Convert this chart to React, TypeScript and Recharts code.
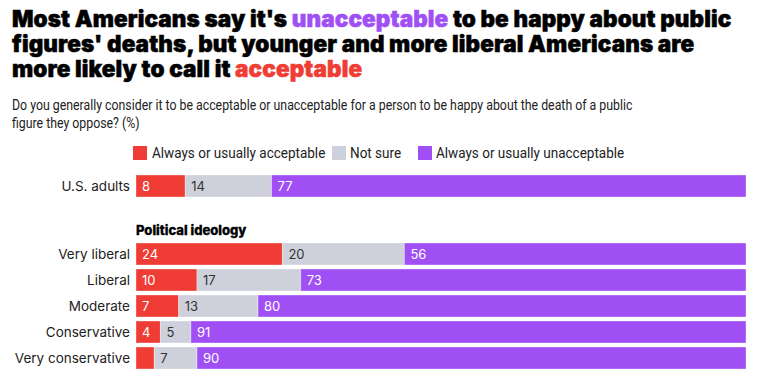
import React from 'react';
import { BarChart, Bar, XAxis, YAxis, LabelList } from 'recharts';

const RED = '#EF3D36';
const GRAY = '#CED1DB';
const PURPLE = '#A04FF5';

const seriesNames = ['Always or usually acceptable', 'Not sure', 'Always or usually unacceptable'];

const overallGroups = ['U.S. adults'];
const overallAcceptable = [8];
const overallNotSure = [14];
const overallUnacceptable = [77];

const ideologyGroups = ['Very liberal', 'Liberal', 'Moderate', 'Conservative', 'Very conservative'];
const ideologyAcceptable = [24, 10, 7, 4, 3];
const ideologyNotSure = [20, 17, 13, 5, 7];
const ideologyUnacceptable = [56, 73, 80, 91, 90];

const buildRows = (groups: string[], acc: number[], ns: number[], unacc: number[]) =>
  groups.map((group, i) => ({ group, acc: acc[i], ns: ns[i], unacc: unacc[i] }));

const overallData = buildRows(overallGroups, overallAcceptable, overallNotSure, overallUnacceptable);
const ideologyData = buildRows(ideologyGroups, ideologyAcceptable, ideologyNotSure, ideologyUnacceptable);

const labelFont = 'Inter, "Noto Sans", sans-serif';
const narrowFont = 'Roboto, "Noto Sans", sans-serif';

const segmentLabel = (color: string) => (props: any) => {
  const { x, y, width, height, value } = props;
  if (width < 20) return null;
  return (
    <text
      x={x + 6}
      y={y + height / 2}
      dominantBaseline="central"
      fill={color}
      fontSize={13}
      fontFamily={labelFont}
    >
      {value}
    </text>
  );
};

const CategoryTick = (props: any) => {
  const { x, y, payload } = props;
  return (
    <text x={x} y={y} textAnchor="end" dominantBaseline="central" fill="#222" fontSize={13.5} fontFamily={labelFont}>
      {payload.value}
    </text>
  );
};

const StackedRows = ({ data, height }: { data: any[]; height: number }) => (
  <BarChart
    width={760}
    height={height}
    data={data}
    layout="vertical"
    stackOffset="expand"
    barSize={22}
    margin={{ top: 0, right: 14, bottom: 0, left: 0 }}
  >
    <XAxis type="number" domain={[0, 1]} hide />
    <YAxis
      type="category"
      dataKey="group"
      width={136}
      axisLine={false}
      tickLine={false}
      tickSize={0}
      tickMargin={6}
      tick={<CategoryTick />}
    />
    <Bar dataKey="acc" name={seriesNames[0]} stackId="a" fill={RED} stroke="#fff" strokeOpacity={0.35} isAnimationActive={false}>
      <LabelList dataKey="acc" content={segmentLabel('#fff')} />
    </Bar>
    <Bar dataKey="ns" name={seriesNames[1]} stackId="a" fill={GRAY} stroke="#fff" strokeOpacity={0.35} isAnimationActive={false}>
      <LabelList dataKey="ns" content={segmentLabel('#333')} />
    </Bar>
    <Bar dataKey="unacc" name={seriesNames[2]} stackId="a" fill={PURPLE} stroke="#fff" strokeOpacity={0.35} isAnimationActive={false}>
      <LabelList dataKey="unacc" content={segmentLabel('#fff')} />
    </Bar>
  </BarChart>
);

const narrowText = (size: number, squeeze: number): React.CSSProperties => ({
  fontFamily: narrowFont,
  fontSize: size,
  color: '#222',
  whiteSpace: 'nowrap',
  transform: `scaleX(${squeeze})`,
  transformOrigin: 'left center',
});

// legend swatch / text x positions, taken from the reference layout
const legendSwatchX = [133, 332, 418];
const legendTextX = [152, 350, 436];

export default function App() {
  const colors = [RED, GRAY, PURPLE];
  return (
    <div style={{ position: 'absolute', left: 0, top: 0, width: 760, height: 384, background: '#fff', overflow: 'hidden' }}>
      <div
        style={{
          position: 'absolute',
          left: 12,
          top: 6,
          fontFamily: labelFont,
          fontWeight: 900,
          fontSize: 22.5,
          lineHeight: '25px',
          color: '#000',
          letterSpacing: 0.1,
          whiteSpace: 'nowrap',
          WebkitTextStroke: '0.5px currentColor',
        }}
      >
        Most Americans say it's <span style={{ color: PURPLE }}>unacceptable</span> to be happy about public
        <br />
        figures' deaths, but younger and more liberal Americans are
        <br />
        more likely to call it <span style={{ color: RED }}>acceptable</span>
      </div>
      <div style={{ position: 'absolute', left: 12, top: 96, lineHeight: '18px', ...narrowText(14, 0.88) }}>
        Do you generally consider it to be acceptable or unacceptable for a person to be happy about the death of a public
        <br />
        figure they oppose? (%)
      </div>
      {seriesNames.map((name, i) => (
        <React.Fragment key={name}>
          <span
            style={{
              position: 'absolute',
              left: legendSwatchX[i],
              top: 146,
              width: 14,
              height: 14,
              background: colors[i],
            }}
          />
          <span style={{ position: 'absolute', left: legendTextX[i], top: 144, lineHeight: '18px', ...narrowText(15, 0.9) }}>
            {name}
          </span>
        </React.Fragment>
      ))}
      <div style={{ position: 'absolute', left: 0, top: 173 }}>
        <StackedRows data={overallData} height={26} />
      </div>
      <div
        style={{
          position: 'absolute',
          left: 136,
          top: 222,
          fontFamily: labelFont,
          fontWeight: 800,
          fontSize: 13,
          color: '#000',
          WebkitTextStroke: '0.3px currentColor',
        }}
      >
        Political ideology
      </div>
      <div style={{ position: 'absolute', left: 0, top: 241 }}>
        <StackedRows data={ideologyData} height={130} />
      </div>
    </div>
  );
}
